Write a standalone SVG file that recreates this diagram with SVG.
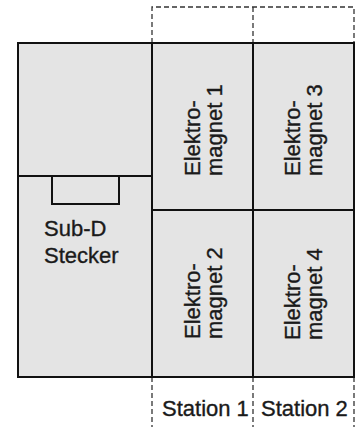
<svg xmlns="http://www.w3.org/2000/svg" width="357" height="427" viewBox="0 0 357 427">
<style>
.box{fill:#e4e4e4;stroke:#111;stroke-width:2}
.line{fill:none;stroke:#111;stroke-width:2}
.dash{fill:none;stroke:#333;stroke-width:1.3;stroke-dasharray:5 3}
.t{font-family:"Liberation Sans",Arial,sans-serif;font-size:22px;fill:#1a1a1a;stroke:#1a1a1a;stroke-width:0.35}
</style>
<rect width="357" height="427" fill="#ffffff"/>
<g id="frames">
<path class="dash" d="M152,43 V7 H354 V43 M253,7 V43"/>
<path class="dash" d="M152,377 V427 M253,377 V427 M354,377 V427"/>
</g>
<g id="subd">
<rect class="box" x="18" y="43" width="134" height="334"/>
<path class="line" d="M18,176 H152"/>
<rect class="line" x="52" y="176" width="67" height="28"/>
<text class="t" x="44" y="236">Sub-D</text>
<text class="t" x="44" y="263">Stecker</text>
</g>
<g id="em1">
<rect class="box" x="152" y="43" width="101" height="167"/>
<text class="t" transform="translate(200,176) rotate(-90)">Elektro-<tspan x="0" dy="22">magnet 1</tspan></text>
</g>
<g id="em3">
<rect class="box" x="253" y="43" width="101" height="167"/>
<text class="t" transform="translate(300,176) rotate(-90)">Elektro-<tspan x="0" dy="22">magnet 3</tspan></text>
</g>
<g id="em2">
<rect class="box" x="152" y="210" width="101" height="167"/>
<text class="t" transform="translate(200,339) rotate(-90)">Elektro-<tspan x="0" dy="22">magnet 2</tspan></text>
</g>
<g id="em4">
<rect class="box" x="253" y="210" width="101" height="167"/>
<text class="t" transform="translate(300,340) rotate(-90)">Elektro-<tspan x="0" dy="22">magnet 4</tspan></text>
</g>
<g id="labels">
<text class="t" x="162" y="416">Station 1</text>
<text class="t" x="261" y="416">Station 2</text>
</g>
</svg>
